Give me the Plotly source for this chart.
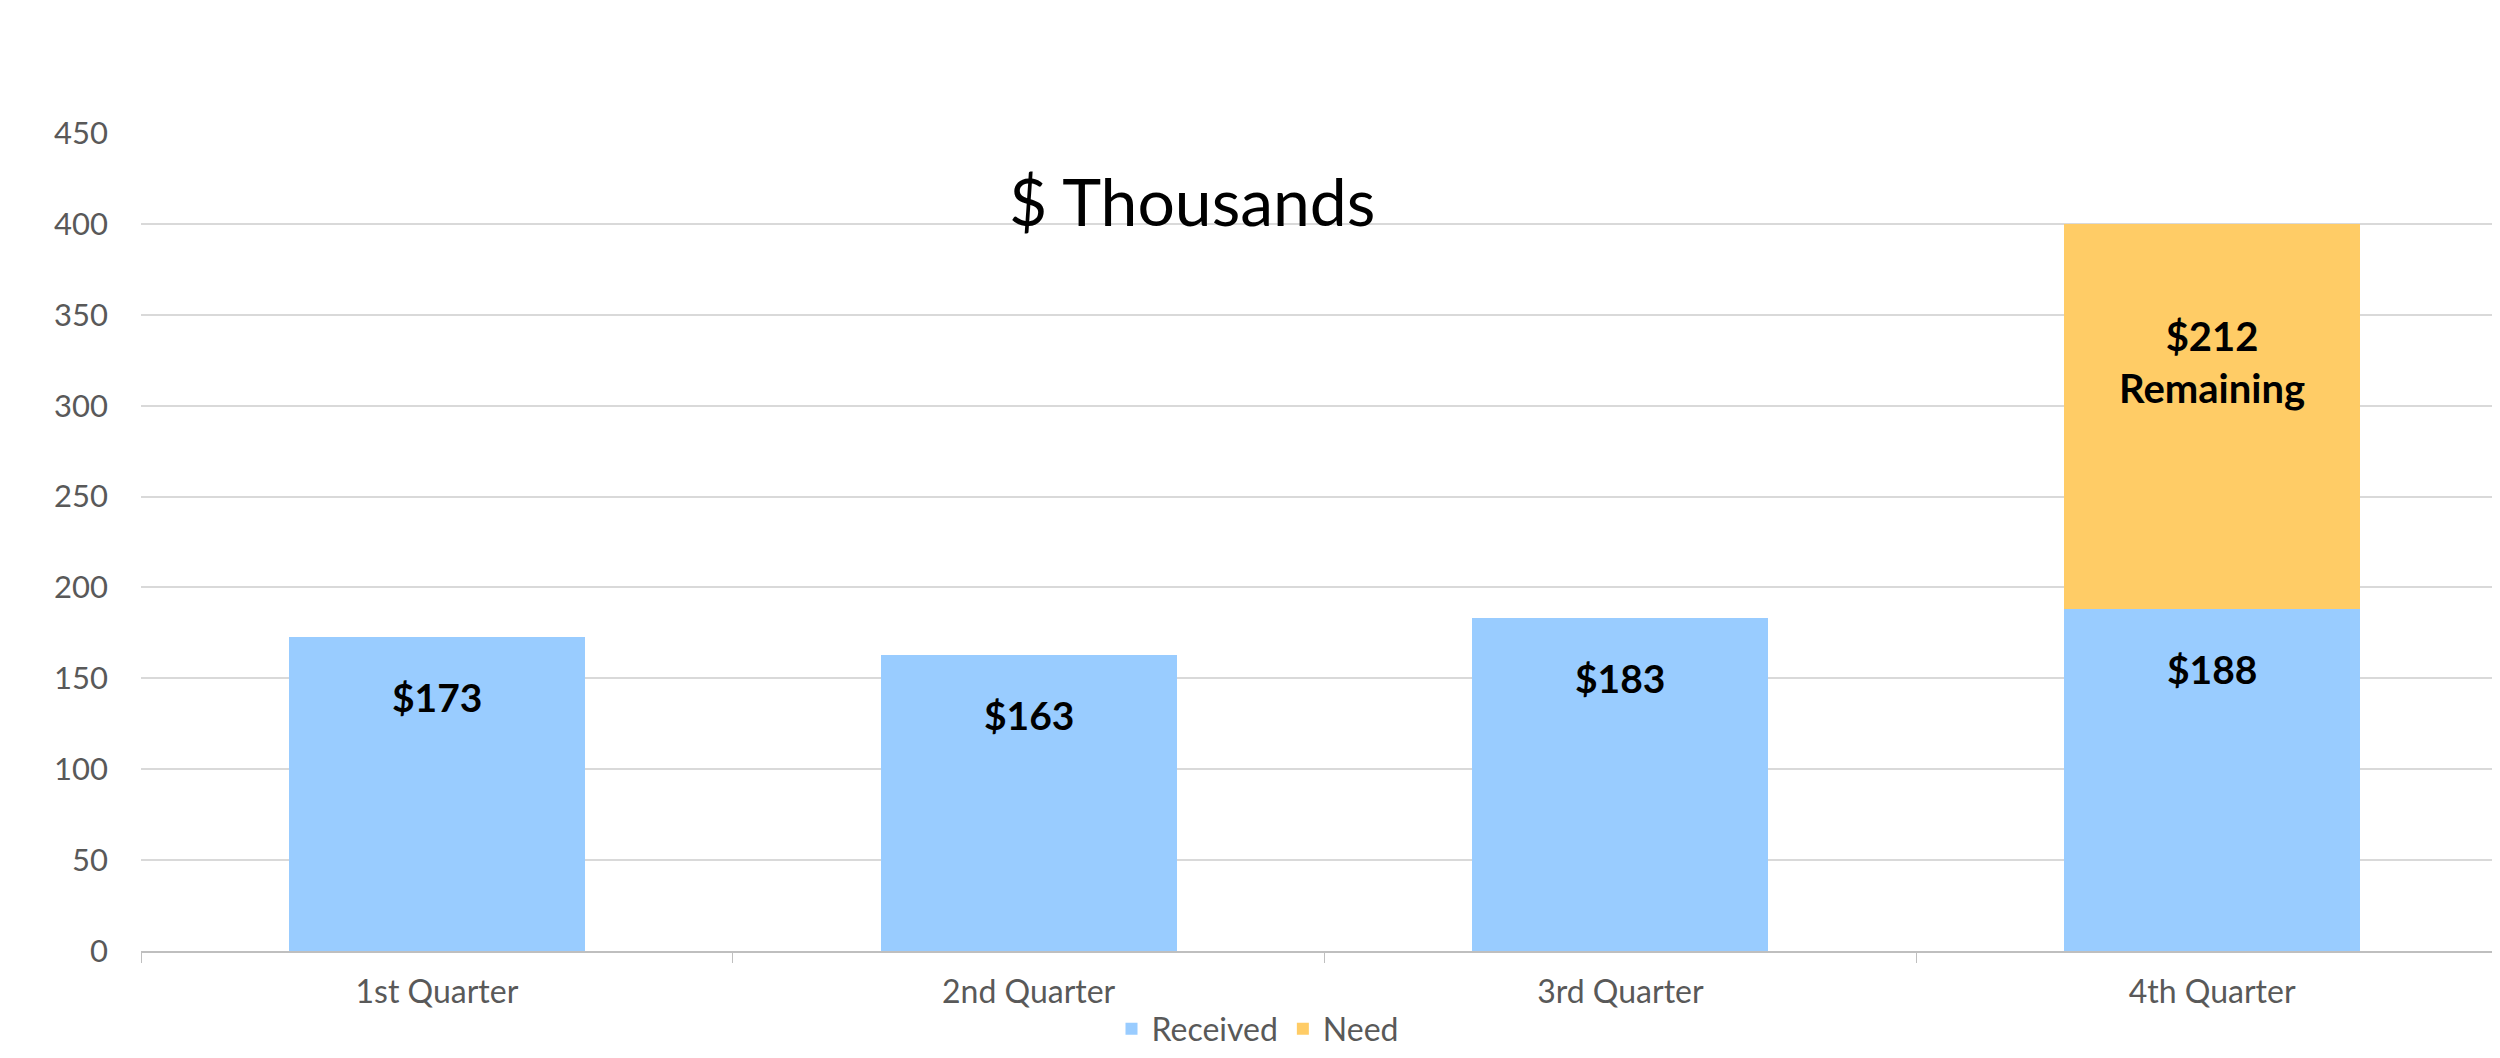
import plotly.graph_objects as go

categories = ["1st Quarter", "2nd Quarter", "3rd Quarter", "4th Quarter"]
received = [173, 163, 183, 188]
need = [None, None, None, 212]
y_ticks = [0, 50, 100, 150, 200, 250, 300, 350, 400, 450]

BLUE = "#99CCFF"
ORANGE = "#FFCC66"
FONT = "Lato"
GREY = "#595959"

fig = go.Figure()
fig.add_trace(go.Bar(x=categories, y=received, name="Received", marker_color=BLUE,
                     marker_line_width=0, width=0.5))
fig.add_trace(go.Bar(x=categories, y=need, name="Need", marker_color=ORANGE,
                     marker_line_width=0, width=0.5))

annotations = []
for c, v in zip(categories, received):
    annotations.append(dict(x=c, y=v, text=f"<b>${v}</b>", showarrow=False,
                            yshift=-60, font=dict(family=FONT, size=39, color="black")))
for c, r, n in zip(categories, received, need):
    if n is not None:
        annotations.append(dict(x=c, y=r + n, text=f"<b>${n}<br>Remaining</b>", showarrow=False,
                                yshift=-138, font=dict(family=FONT, size=40, color="black")))
annotations.append(dict(xref="paper", yref="paper", x=0.444, y=0.918, text="$ Thousands",
                        showarrow=False, xanchor="center", yanchor="middle",
                        font=dict(family=FONT, size=66, color="black")))

fig.update_layout(
    barmode="stack",
    width=2500, height=1058,
    margin=dict(l=133, r=0, t=125, b=115),
    plot_bgcolor="white", paper_bgcolor="white",
    font=dict(family=FONT, size=30, color=GREY),
    annotations=annotations,
    legend=dict(orientation="h", xref="container", yref="container", x=0.5, y=0.035,
                xanchor="center", yanchor="middle", font=dict(family=FONT, size=32, color=GREY),
                itemwidth=30, traceorder="normal"),
    xaxis=dict(showline=True, linecolor="#BFBFBF", linewidth=2, ticks="outside",
               tickson="boundaries", ticklen=10, tickcolor="#BFBFBF",
               tickfont=dict(family=FONT, size=32, color=GREY), showgrid=False,
               ticklabelstandoff=12, automargin=False),
    yaxis=dict(range=[0, 450], tickvals=y_ticks, showgrid=True, gridcolor="#D9D9D9",
               gridwidth=2, zeroline=False, showline=False, ticks="",
               tickfont=dict(family=FONT, size=31, color=GREY), ticklabelstandoff=32,
               automargin=False),
)

fig.write_html("out.html")
